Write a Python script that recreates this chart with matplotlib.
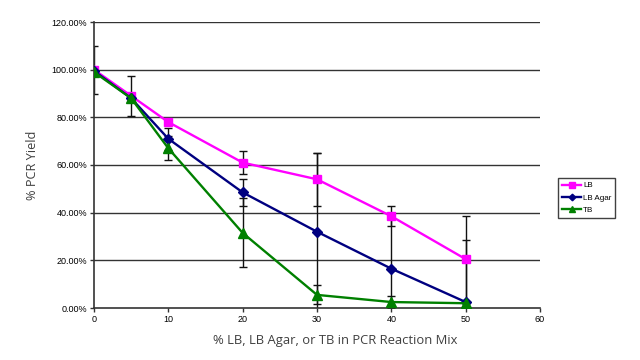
import matplotlib
matplotlib.use("Agg")
import matplotlib.pyplot as plt
from matplotlib.ticker import FuncFormatter

x = [0, 5, 10, 20, 30, 40, 50]
lb = [100, 89, 78, 61, 54, 38.5, 20.5]
lb_agar = [99.5, 88, 71, 48.5, 32, 16.5, 2.5]
tb = [99, 88, 67, 31.5, 5.5, 2.5, 2]
lb_err = [10, 8.5, 0, 4.8, 11.2, 4.3, 18]
lb_agar_err = [0, 0, 4.5, 5.8, 33, 23, 26]
tb_err = [0, 0, 5, 14.5, 4, 2.6, 0]
series_names = ["LB", "LB Agar", "TB"]
xticks = [0, 10, 20, 30, 40, 50, 60]
yticks = [0, 20, 40, 60, 80, 100, 120]

fig = plt.figure(figsize=(6.4, 3.6), dpi=100)
ax = fig.add_axes([94/640, 1-308/360, (540-94)/640, (308-22)/360])

tick_font = dict(family=["Liberation Sans", "DejaVu Sans"], size=6.5)

for yv in yticks[1:]:
    ax.axhline(yv, color="#333333", lw=1.0, zorder=1)

specs = [
    (lb, lb_err, "#FF00FF", "s", 6.0),
    (lb_agar, lb_agar_err, "#000080", "D", 4.8),
    (tb, tb_err, "#008000", "^", 7.0),
]
for (vals, err, col, mk, ms), name in zip(specs, series_names):
    ax.errorbar(x, vals, yerr=err, fmt="none", ecolor="#111111", elinewidth=1.0,
                capsize=3, capthick=1.0, zorder=2)
for (vals, err, col, mk, ms), name in zip(specs, series_names):
    ax.plot(x, vals, color=col, marker=mk, markersize=ms, lw=1.7, label=name, zorder=3)

ax.set_xlim(0, 60)
ax.set_ylim(0, 120)
ax.set_xticks(xticks)
ax.set_yticks(yticks)
ax.yaxis.set_major_formatter(FuncFormatter(lambda v, p: f"{v:.2f}%"))
for lab in ax.get_xticklabels() + ax.get_yticklabels():
    lab.set_fontfamily(tick_font["family"])
    lab.set_fontsize(tick_font["size"])
ax.tick_params(axis="both", direction="out", length=3, width=1, color="#333333", pad=2)
ax.spines["top"].set_visible(False)
ax.spines["right"].set_visible(False)
ax.spines["left"].set_color("#333333")
ax.spines["bottom"].set_color("#333333")
ax.spines["left"].set_linewidth(1.2)
ax.spines["bottom"].set_linewidth(1.2)

lab_font = ["Open Sans", "DejaVu Sans"]
ax.set_xlabel("% LB, LB Agar, or TB in PCR Reaction Mix", family=lab_font, fontsize=9.4,
              color="#404040")
ax.xaxis.set_label_coords((335-94)/446, -(334-308)/286)
ax.set_ylabel("% PCR Yield", family=lab_font, fontsize=9.2, color="#404040", labelpad=9)

leg = ax.legend(loc="center left", bbox_to_anchor=(554/640, 1-198/360),
                bbox_transform=fig.transFigure, frameon=True, fancybox=False,
                prop=dict(family=tick_font["family"], size=5.8), handlelength=2.4,
                handletextpad=0.2, labelspacing=0.6, borderpad=0.5, markerscale=0.7)
leg.get_frame().set_edgecolor("#111111")
leg.get_frame().set_linewidth(1.0)

fig.savefig("out.png", dpi=100)
